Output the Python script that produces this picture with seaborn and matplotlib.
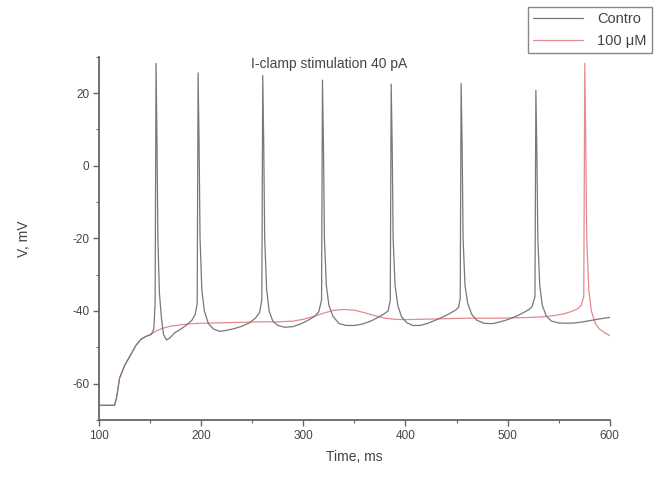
import matplotlib
matplotlib.use("Agg")
import matplotlib.pyplot as plt
import numpy as np
import pandas as pd
import seaborn as sns
from matplotlib.ticker import MultipleLocator

# Membrane potential traces under 40 pA current clamp
time_control = [100, 110, 115, 117, 120, 125, 131, 136, 141, 146, 151, 153.5, 154.8,
                155.7, 156.7, 157.5, 159, 161, 163, 166, 169, 174, 180, 186, 191, 194, 196,
                196.9, 197.9, 198.8, 200.5, 203, 207, 212, 218, 224, 232, 240, 247, 253, 257, 259.3,
                260.2, 261.2, 262.1, 264, 266.5, 270, 275, 282, 290, 298, 305, 311, 315, 317.8,
                318.7, 319.7, 320.6, 322.5, 325, 329, 335, 342, 350, 358, 366, 373, 379, 383, 385.1,
                386.0, 387.0, 387.9, 389.8, 392.5, 396, 401, 407, 414, 421, 429, 437, 444, 449, 452, 453.6,
                454.5, 455.5, 456.4, 458.3, 461, 465, 470, 477, 485, 493, 501, 509, 516, 521, 524, 526.8,
                527.7, 528.7, 529.6, 531.5, 534, 538, 543, 550, 558, 566, 574, 582, 590, 600]
v_control = [-66, -66, -66, -64, -58.5, -55, -52, -49.5, -47.8, -47, -46.5, -45, -38,
             28.2, 5, -20, -35, -42, -46.5, -48, -47.5, -46, -45, -43.8, -42.5, -41, -38,
             25.6, 5, -20, -34, -40, -43.5, -45, -45.6, -45.4, -44.9, -44.2, -43.3, -42, -40.5, -37,
             24.9, 5, -20, -34, -40, -42.8, -44, -44.5, -44.3, -43.5, -42.5, -41.5, -40.3, -37,
             23.6, 5, -20, -33, -38.5, -41.5, -43.5, -44, -44, -43.6, -42.8, -41.8, -40.8, -40, -37,
             22.5, 5, -20, -33, -38.5, -41.5, -43.2, -44, -44, -43.5, -42.6, -41.6, -40.6, -39.8, -39, -36.5,
             22.7, 5, -20, -33, -38, -41, -42.6, -43.4, -43.5, -43, -42.3, -41.4, -40.4, -39.6, -38.8, -36,
             20.8, 3, -20, -33, -38.5, -41.5, -42.8, -43.3, -43.4, -43.3, -43, -42.6, -42.2, -41.8]

time_drug = [100, 110, 115, 117, 120, 125, 131, 136, 141, 146, 151, 156, 162, 170, 180,
             190, 200, 215, 230, 245, 260, 275, 290, 300, 310, 320, 330, 340, 350, 360, 370,
             380, 390, 400, 415, 430, 445, 460, 475, 490, 505, 520, 535, 545, 555, 562, 568,
             572, 574.6, 575.6, 576.6, 577.5, 579.5, 582, 586, 590, 595, 600]
v_drug = [-66, -66, -66, -64, -58.5, -55, -52, -49.5, -47.8, -47, -46.3, -45.5, -44.8, -44.2, -43.8,
          -43.5, -43.4, -43.3, -43.2, -43.1, -43, -43, -42.8, -42.3, -41.5, -40.6, -39.8, -39.6, -39.8, -40.5, -41.3,
          -42, -42.3, -42.4, -42.3, -42.2, -42.1, -42, -42, -42, -41.9, -41.8, -41.6, -41.3, -40.8, -40.2, -39.5,
          -38.5, -36, 28.2, 5, -20, -34, -40, -43.5, -45, -46, -46.8]

label_control = "Contro"
label_drug = "100 \u03bcM"
title_text = "I-clamp stimulation 40 pA"

control_df = pd.DataFrame({"Time, ms": time_control, "V, mV": v_control})
drug_df = pd.DataFrame({"Time, ms": time_drug, "V, mV": v_drug})

sns.set_style("ticks")
plt.rcParams["font.family"] = ["Liberation Sans", "DejaVu Sans"]
plt.rcParams["axes.unicode_minus"] = False

fig = plt.figure(figsize=(6.7, 4.82), dpi=100)
ax = fig.add_axes([0.148, 0.129, 0.762, 0.753])

color_control = "#787878"
color_drug = "#e48a90"

# drug trace underneath, control trace on top
sns.lineplot(data=drug_df, x="Time, ms", y="V, mV", color=color_drug, sort=False,
             estimator=None, linewidth=0.9, ax=ax, label=label_drug, zorder=2)
sns.lineplot(data=control_df, x="Time, ms", y="V, mV", color=color_control, sort=False,
             estimator=None, linewidth=0.9, ax=ax, label=label_control, zorder=3)

ax.set_xlim(100, 600)
ax.set_ylim(-70, 30)
ax.xaxis.set_major_locator(MultipleLocator(100))
ax.xaxis.set_minor_locator(MultipleLocator(50))
ax.yaxis.set_major_locator(MultipleLocator(20))
ax.yaxis.set_minor_locator(MultipleLocator(10))

text_color = "#444444"
for side in ("top", "right"):
    ax.spines[side].set_visible(False)
for side in ("left", "bottom"):
    ax.spines[side].set_color("#666666")
    ax.spines[side].set_linewidth(1.3)
ax.tick_params(which="major", direction="out", length=4, width=1.0, color="#666666",
               labelsize=8.5, labelcolor=text_color, pad=3)
ax.tick_params(which="minor", direction="out", length=2.5, width=0.8, color="#666666")

ax.set_xlabel("Time, ms", fontsize=10, color=text_color, labelpad=6)
ax.set_ylabel("V, mV", fontsize=10, color=text_color, labelpad=30)

ax.text(0.45, 0.98, title_text, transform=ax.transAxes, ha="center", va="center",
        fontsize=10, color=text_color)

handles, labels = ax.get_legend_handles_labels()
order = [labels.index(label_control), labels.index(label_drug)]
ax.legend([handles[i] for i in order], [labels[i] for i in order],
          loc="upper right", bbox_to_anchor=(0.973, 0.985),
          bbox_transform=fig.transFigure, frameon=True, fancybox=False,
          edgecolor="#888888", fontsize=10.5, handlelength=3.4, borderpad=0.35,
          labelspacing=0.5, handletextpad=1.0, borderaxespad=0.0,
          labelcolor=text_color, framealpha=1.0)

fig.savefig("out.png", dpi=100)
